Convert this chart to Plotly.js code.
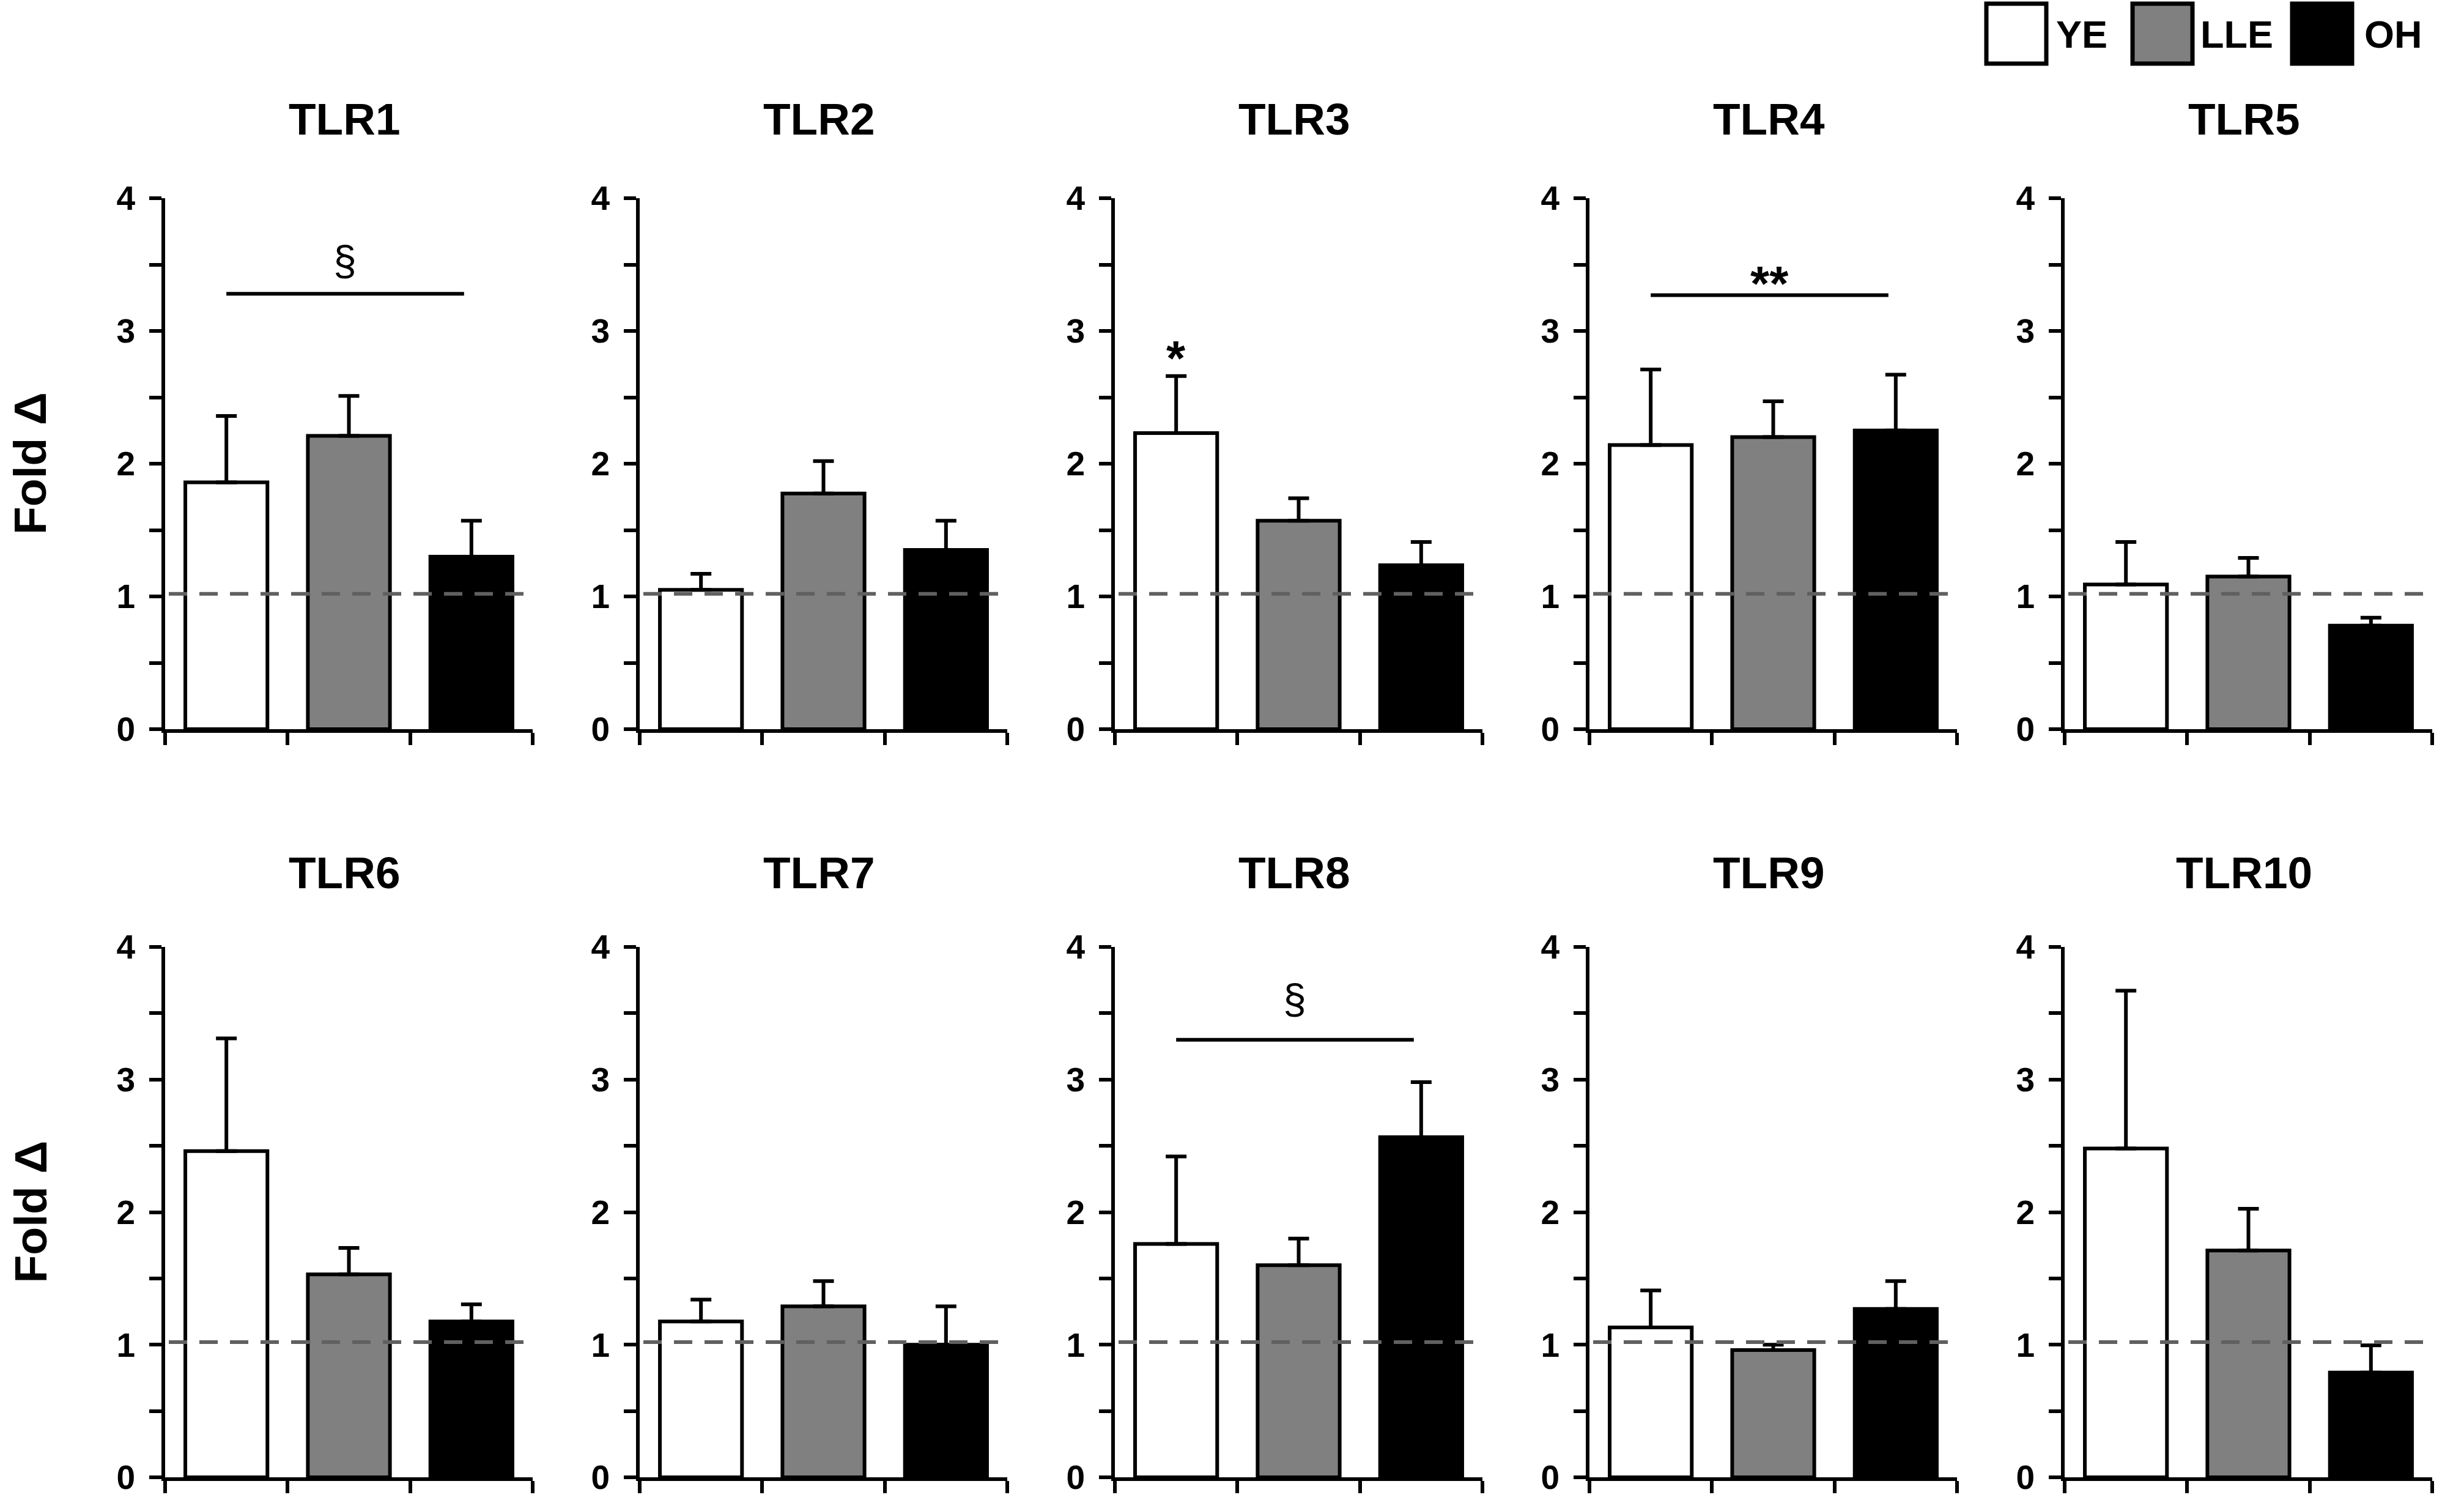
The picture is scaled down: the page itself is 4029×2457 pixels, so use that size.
<!DOCTYPE html>
<html><head><meta charset="utf-8">
<script src="https://cdn.plot.ly/plotly-3.0.1.min.js"></script>
<style>html,body{margin:0;padding:0;background:#fff;}#chart{width:4029px;height:2457px;}</style>
</head><body><div id="chart"></div>
<script>
// ---- data ----
const panels = ['TLR1','TLR2','TLR3','TLR4','TLR5','TLR6','TLR7','TLR8','TLR9','TLR10'];
const groups = ['YE','LLE','OH'];
const groupColors = ['#ffffff','#808080','#000000'];
const ye     = [1.86, 1.05, 2.23, 2.14, 1.09, 2.46, 1.175, 1.76, 1.13, 2.48];
const yeErr  = [0.50, 0.12, 0.43, 0.57, 0.32, 0.85, 0.165, 0.66, 0.28, 1.19];
const lle    = [2.21, 1.775, 1.57, 2.20, 1.15, 1.53, 1.29, 1.60, 0.96, 1.71];
const lleErr = [0.30, 0.245, 0.17, 0.27, 0.14, 0.20, 0.19, 0.20, 0.04, 0.315];
const oh     = [1.30, 1.35, 1.235, 2.25, 0.78, 1.175, 1.00, 2.565, 1.27, 0.79];
const ohErr  = [0.27, 0.22, 0.175, 0.42, 0.06, 0.13, 0.29, 0.415, 0.21, 0.205];
const yTickVals = [0,0.5,1,1.5,2,2.5,3,3.5,4];
const yTickText = ['0','','1','','2','','3','','4'];
const yAxisTitle = 'Fold Δ';
const baseline = 1.02;
// significance marks
const sigPanels = ['TLR1','TLR4','TLR8'];
const sigText   = ['§','**','§'];
const sigLineY  = [3.28, 3.27, 3.30];
const sigTextY  = [3.53, 3.57, 3.61];
const starPanels = ['TLR3'];
const starText   = ['*'];
const starY      = [3.01];

// ---- layout geometry ----
const W = 4029, H = 2457;
const colX0 = [270, 1046, 1823, 2599, 3376];
const plotW = 601;
const rowTop = [324, 1548], rowBot = [1192, 2415];
const titleY = [195, 1426];
const FONT = 'Liberation Sans, Arial, sans-serif';
const px = v => v / W, py = v => 1 - v / H;

const traces = [];
const layout = {
  width: W, height: H, margin: {l:0, r:0, t:0, b:0},
  paper_bgcolor: '#fff', plot_bgcolor: 'rgba(0,0,0,0)',
  showlegend: false, annotations: [], shapes: [],
  font: {family: FONT, color: '#000'}
};

panels.forEach((name, p) => {
  const row = Math.floor(p / 5), col = p % 5;
  const xid = p === 0 ? 'x' : 'x' + (p + 1);
  const yid = p === 0 ? 'y' : 'y' + (p + 1);
  const xkey = p === 0 ? 'xaxis' : 'xaxis' + (p + 1);
  const ykey = p === 0 ? 'yaxis' : 'yaxis' + (p + 1);
  traces.push({
    type: 'bar', x: [0, 1, 2], y: [ye[p], lle[p], oh[p]],
    text: groups, hoverinfo: 'text+y', textposition: 'none',
    width: 0.67, xaxis: xid, yaxis: yid,
    marker: {color: groupColors, line: {color: '#000', width: 6}},
    error_y: {type: 'data', symmetric: false, array: [yeErr[p], lleErr[p], ohErr[p]],
              arrayminus: [0, 0, 0], color: '#000', thickness: 6, width: 17}
  });
  layout[xkey] = {
    domain: [px(colX0[col]), px(colX0[col] + plotW)], anchor: yid,
    range: [-0.5, 2.5], tickvals: [-0.5, 0.5, 1.5, 2.5], showticklabels: false,
    ticks: 'outside', ticklen: 20, tickwidth: 6, tickcolor: '#000',
    showline: true, linewidth: 6, linecolor: '#000', showgrid: false, zeroline: false, fixedrange: true
  };
  layout[ykey] = {
    domain: [py(rowBot[row]), py(rowTop[row])], anchor: xid,
    range: [0, 4], tickvals: yTickVals, ticktext: yTickText,
    ticks: 'outside', ticklen: 20, tickwidth: 6, tickcolor: '#000', ticklabelstandoff: 12,
    tickfont: {family: FONT, size: 55, weight: 'bold', color: '#000'},
    showline: true, linewidth: 6, linecolor: '#000', showgrid: false, zeroline: false, fixedrange: true
  };
  layout.annotations.push({
    text: name, xref: 'paper', yref: 'paper', x: px(colX0[col] + plotW / 2 - 7), y: py(titleY[row]),
    xanchor: 'center', yanchor: 'middle', showarrow: false,
    font: {family: FONT, size: 73, weight: 'bold', color: '#000'}
  });
  layout.shapes.push({
    type: 'line', xref: xid, yref: yid, x0: -0.47, x1: 2.43, y0: baseline, y1: baseline,
    line: {color: '#606060', width: 6, dash: '30px,20px'}, layer: 'above'
  });
});

sigPanels.forEach((name, i) => {
  const p = panels.indexOf(name);
  const xid = p === 0 ? 'x' : 'x' + (p + 1);
  const yid = p === 0 ? 'y' : 'y' + (p + 1);
  layout.shapes.push({type: 'line', xref: xid, yref: yid, x0: 0, x1: 1.94, y0: sigLineY[i], y1: sigLineY[i],
                      line: {color: '#000', width: 6}});
  const isSect = sigText[i] === '§';
  layout.annotations.push({text: sigText[i], xref: xid, yref: yid, x: 0.97, y: sigTextY[i],
    xanchor: 'center', yanchor: isSect ? 'middle' : 'top', showarrow: false,
    font: {family: FONT, size: isSect ? 68 : 80, weight: isSect ? 'normal' : 'bold', color: '#000'}});
});
starPanels.forEach((name, i) => {
  const p = panels.indexOf(name);
  const xid = p === 0 ? 'x' : 'x' + (p + 1);
  const yid = p === 0 ? 'y' : 'y' + (p + 1);
  layout.annotations.push({text: starText[i], xref: xid, yref: yid, x: 0, y: starY[i],
    xanchor: 'center', yanchor: 'top', showarrow: false,
    font: {family: FONT, size: 80, weight: 'bold', color: '#000'}});
});

// y-axis titles
[0, 1].forEach(row => {
  layout.annotations.push({text: yAxisTitle, xref: 'paper', yref: 'paper', x: px(49),
    y: py((rowTop[row] + rowBot[row]) / 2), xanchor: 'center', yanchor: 'middle', textangle: -90,
    showarrow: false, font: {family: FONT, size: 75, weight: 'bold', color: '#000'}});
});

// legend (drawn with shapes + text)
const legBoxX = [3248, 3487, 3748];
const legTextX = [3360, 3596, 3864];
groups.forEach((g, i) => {
  layout.shapes.push({type: 'rect', xref: 'paper', yref: 'paper',
    x0: px(legBoxX[i]), x1: px(legBoxX[i] + 98), y0: py(104), y1: py(6),
    fillcolor: groupColors[i], line: {color: '#000', width: 7}});
  layout.annotations.push({text: g, xref: 'paper', yref: 'paper', x: px(legTextX[i]), y: py(56),
    xanchor: 'left', yanchor: 'middle', showarrow: false,
    font: {family: FONT, size: 63, weight: 'bold', color: '#000'}});
});

Plotly.newPlot('chart', traces, layout, {displayModeBar: false, staticPlot: true});
</script>
</body></html>
